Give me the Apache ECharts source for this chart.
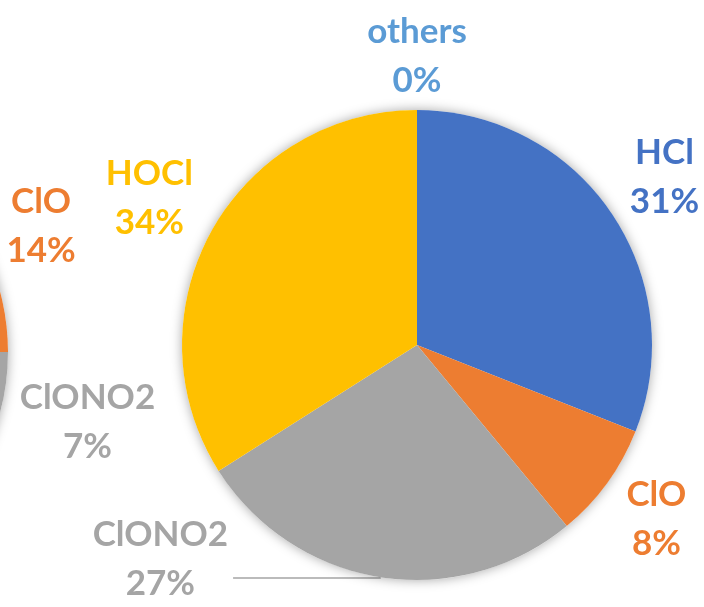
<!DOCTYPE html>
<html>
<head>
<meta charset="utf-8">
<script src="https://cdn.jsdelivr.net/npm/echarts@6/dist/echarts.min.js"></script>
<style>
  html, body { margin: 0; padding: 0; background: #fff; }
  #main { width: 704px; height: 607px; }
</style>
</head>
<body>
<div id="main"></div>
<script>
// species shares (%), clockwise from 12 o'clock
var species = ['HCl', 'ClO', 'ClONO2', 'HOCl', 'others']
var mainShares = [31, 8, 27, 34, 0]
// second pie, mostly cut off by the left edge (only ClO / ClONO2 visible)
var leftShares = [11, 14, 7, 68, 0]
var colors = ['#4472C4', '#ED7D31', '#A5A5A5', '#FFC000', '#5B9BD5']
var shadowDisk = [1]

var chart = echarts.init(document.getElementById('main'))
var labelGap = 12
var radius = 235

// put each label just outside the pie, along the slice's mid angle
function placeLabel (params) {
  var series = chart.getModel().getSeriesByIndex(params.seriesIndex)
  if (!series) return {}
  var data = series.getData()
  if (series.get('leaderName') === data.getName(params.dataIndex)) return {}
  var lay = data.getItemLayout(params.dataIndex)
  if (!lay) return {}
  var mid = (lay.startAngle + lay.endAngle) / 2
  var ux = Math.cos(mid)
  var uy = Math.sin(mid)
  var ext = Math.abs(ux) * params.labelRect.width / 2 + Math.abs(uy) * params.labelRect.height / 2
  var d = lay.r + labelGap + ext
  return { x: lay.cx + ux * d, y: lay.cy + uy * d, align: 'center', verticalAlign: 'middle' }
}

function backing (center) {
  return {
    type: 'pie',
    silent: true,
    center: center,
    radius: radius,
    label: { show: false },
    labelLine: { show: false },
    itemStyle: {
      color: '#fff',
      borderWidth: 0,
      shadowBlur: 12,
      shadowColor: 'rgba(0,0,0,0.35)'
    },
    data: shadowDisk.map(function (v) { return { value: v, name: 'disk' } })
  }
}

function pie (center, shares, leaderName) {
  return {
    type: 'pie',
    center: center,
    radius: radius,
    startAngle: 90,
    clockwise: true,
    avoidLabelOverlap: false,
    percentPrecision: 0,
    leaderName: leaderName,
    itemStyle: { borderWidth: 0 },
    labelLayout: placeLabel,
    label: {
      show: true,
      position: 'outside',
      formatter: '{n|{b}}\n{n|{d}%}',
      rich: {
        n: {
          align: 'center',
          fontFamily: 'Lato',
          fontWeight: 'bold',
          fontSize: 35,
          lineHeight: 49
        }
      }
    },
    labelLine: { show: false },
    data: species.map(function (name, i) {
      var item = {
        name: name,
        value: shares[i],
        itemStyle: { color: colors[i] },
        label: { color: colors[i] }
      }
      if (name === leaderName) {
        item.label.padding = [0, 0, 38, 0]
        item.labelLine = {
          show: true,
          length: 1,
          length2: 147,
          lineStyle: { color: '#A5A5A5', width: 1.5 }
        }
      }
      return item
    })
  }
}

chart.setOption({
  animation: false,
  series: [
    backing([417, 345]),
    pie([417, 345], mainShares, 'ClONO2'),
    backing([-227, 352]),
    pie([-227, 352], leftShares, null)
  ]
})
</script>
</body>
</html>
